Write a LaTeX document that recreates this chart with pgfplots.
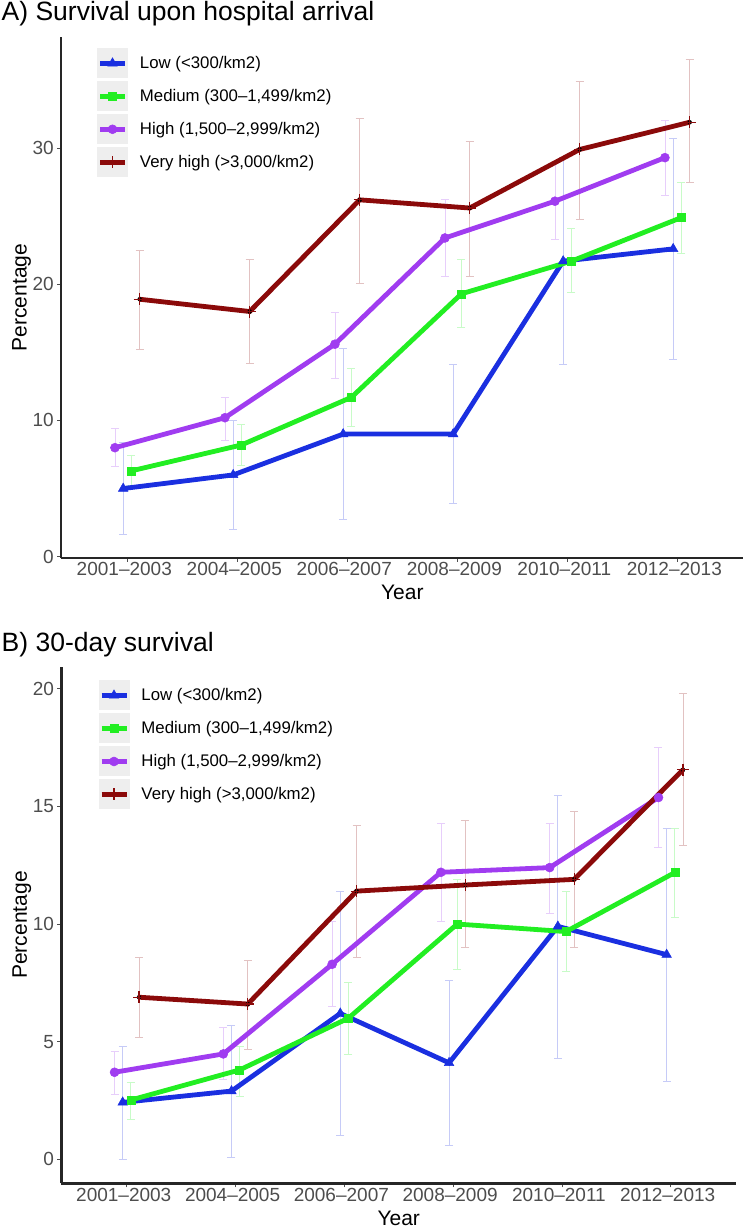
\documentclass[border=0pt]{standalone}
\usepackage{fontspec}
\setmainfont{Liberation Sans}
\usepackage{pgfplots}
\pgfplotsset{compat=1.18}
\usepackage{pgfplotstable}

\definecolor{cblue}{HTML}{1A2FE0}
\definecolor{cgreen}{HTML}{22EE22}
\definecolor{cpurple}{HTML}{A03CF0}
\definecolor{cred}{HTML}{8B0A0A}
\definecolor{tickgray}{HTML}{4D4D4D}
\definecolor{keygray}{HTML}{EEEEEE}

% Panel A
\pgfplotstableread{
x y lo hi
-0.0375 5.0 1.6 8.4
0.9625 6.0 2.0 10.0
1.9625 9.0 2.7 15.3
2.9625 9.0 3.9 14.1
3.9625 21.7 14.1 29.3
4.9625 22.6 14.5 30.7
}\Alow
\pgfplotstableread{
x y lo hi
0.0375 6.3 5.2 7.4
1.0375 8.2 6.7 9.7
2.0375 11.7 9.6 13.85
3.0375 19.3 16.8 21.8
4.0375 21.7 19.4 24.1
5.0375 24.9 22.3 27.5
}\Amed
\pgfplotstableread{
x y lo hi
-0.1125 8.0 6.6 9.4
0.8875 10.2 8.5 11.7
1.8875 15.6 13.1 17.9
2.8875 23.4 20.6 26.2
3.8875 26.1 23.3 28.9
4.8875 29.3 26.5 32.0
}\Ahigh
\pgfplotstableread{
x y lo hi
0.1125 18.9 15.25 22.5
1.1125 18.0 14.2 21.8
2.1125 26.2 20.1 32.2
3.1125 25.6 20.6 30.5
4.1125 29.9 24.8 34.9
5.1125 31.9 27.5 36.5
}\Avhigh

% Panel B
\pgfplotstableread{
x y lo hi
-0.0375 2.42 0.0 4.8
0.9625 2.9 0.1 5.7
1.9625 6.2 1.0 11.4
2.9625 4.1 0.57 7.6
3.9625 9.9 4.3 15.46
4.9625 8.7 3.3 14.07
}\Blow
\pgfplotstableread{
x y lo hi
0.0375 2.52 1.7 3.27
1.0375 3.8 2.66 4.8
2.0375 6.0 4.48 7.5
3.0375 10.0 8.08 11.9
4.0375 9.68 7.98 11.4
5.0375 12.19 10.3 14.07
}\Bmed
\pgfplotstableread{
x y lo hi
-0.1125 3.7 2.78 4.6
0.8875 4.48 3.4 5.6
1.8875 8.29 6.49 10.1
2.8875 12.2 10.1 14.29
3.8875 12.4 10.46 14.29
4.8875 15.38 13.27 17.5
}\Bhigh
\pgfplotstableread{
x y lo hi
0.1125 6.89 5.19 8.59
1.1125 6.6 4.69 8.47
2.1125 11.4 8.59 14.18
3.1125 11.66 9.0 14.4
4.1125 11.9 9.0 14.81
5.1125 16.56 13.36 19.81
}\Bvhigh

\pgfplotsset{
  base/.style={
    scale only axis,
    axis x line*=bottom, axis y line*=left,
    axis line style={line width=2.4pt, black!85, -},
    xmin=-0.6, xmax=5.6,
    xtick={0,...,5},
    xticklabels={2001--2003,2004--2005,2006--2007,2008--2009,2010--2011,2012--2013},
    tick align=outside,
    major tick length=4pt,
    tick style={tickgray, line width=0.8pt},
    ticklabel style={font=\fontsize{19}{22}\selectfont, text=tickgray},
    xticklabel style={anchor=base, yshift=-14pt, xshift=-3pt},
    yticklabel style={anchor=east, xshift=0pt},
    xlabel={Year}, ylabel={Percentage},
    label style={font=\fontsize{21}{24}\selectfont},
    xlabel style={at={([yshift=-42pt]axis description cs:0.5,0)}, anchor=base},
    ylabel style={at={([xshift=-34.6pt]axis description cs:0,0.5)}, anchor=base},
    legend cell align=left,
    legend style={draw=none, fill=none, inner sep=0pt, outer sep=0pt,
      font=\fontsize{16.8}{20}\selectfont, row sep=3pt,
      nodes={inner sep=0pt},
      /tikz/every odd column/.append style={column sep=12pt}},
    legend image code/.code={
      \fill[keygray, draw=none] (-3pt,-15pt) rectangle (28pt,15pt);
      \draw[mark repeat=2, mark phase=2, #1] plot coordinates {(0pt,0pt) (12.5pt,0pt) (25pt,0pt)};
    },
  },
  eb/.style={forget plot, only marks, mark=none,
    error bars/.cd, y dir=both, y explicit,
    error bar style={line width=0.8pt, #1},
    error mark options={rotate=90, mark size=4pt, line width=0.8pt, #1}},
  lblue/.style={cblue, line width=4.8pt, mark=triangle*, mark size=5.5pt, mark options={solid, line width=0.5pt}},
  lgreen/.style={cgreen, line width=4.8pt, mark=square*, mark size=4pt, mark options={solid, line width=0.5pt}},
  lpurple/.style={cpurple, line width=4.8pt, mark=*, mark size=4.5pt, mark options={solid, line width=0.5pt}},
  lred/.style={cred, line width=4.8pt, mark=+, mark size=6pt, mark options={solid, line width=1.2pt}},
}

\begin{document}
\begin{tikzpicture}
\useasboundingbox (0,0) rectangle (754pt,1229pt);
\node[anchor=base west, inner sep=0pt, font=\fontsize{26.5}{30}\selectfont] at (1.5pt,1208.3pt) {A) Survival upon hospital arrival};
\node[anchor=base west, inner sep=0pt, font=\fontsize{26.5}{30}\selectfont] at (1.5pt,577.3pt) {B) 30-day survival};

\begin{axis}[base, at={(61.3pt,671pt)}, anchor=south west,
  width=682pt, height=521pt, ymin=-0.1, ymax=38.16,
  ytick={0,10,20,30}, yticklabels={0,10,20,30},
  legend style={at={([xshift=35.7pt,yshift=-11.3pt]axis description cs:0,1)}, anchor=north west}]
\addplot[eb=cblue!25] table[x=x, y=y, y error plus expr=\thisrow{hi}-\thisrow{y}, y error minus expr=\thisrow{y}-\thisrow{lo}] {\Alow};
\addplot[eb=cgreen!25] table[x=x, y=y, y error plus expr=\thisrow{hi}-\thisrow{y}, y error minus expr=\thisrow{y}-\thisrow{lo}] {\Amed};
\addplot[eb=cpurple!25] table[x=x, y=y, y error plus expr=\thisrow{hi}-\thisrow{y}, y error minus expr=\thisrow{y}-\thisrow{lo}] {\Ahigh};
\addplot[eb=cred!25] table[x=x, y=y, y error plus expr=\thisrow{hi}-\thisrow{y}, y error minus expr=\thisrow{y}-\thisrow{lo}] {\Avhigh};
\addplot[lblue] table[x=x,y=y] {\Alow};
\addlegendentry{Low (<300/km2)}
\addplot[lgreen] table[x=x,y=y] {\Amed};
\addlegendentry{Medium (300--1,499/km2)}
\addplot[lpurple] table[x=x,y=y] {\Ahigh};
\addlegendentry{High (1,500--2,999/km2)}
\addplot[lred] table[x=x,y=y] {\Avhigh};
\addlegendentry{Very high (>3,000/km2)}
\end{axis}

\begin{axis}[base, at={(61.5pt,45.7pt)}, anchor=south west,
  width=674.5pt, height=516.6pt, ymin=-1.02, ymax=20.94,
  ytick={0,5,10,15,20}, yticklabels={0,5,10,15,20},
  legend style={at={([xshift=37pt,yshift=-13.8pt]axis description cs:0,1)}, anchor=north west}]
\addplot[eb=cblue!25] table[x=x, y=y, y error plus expr=\thisrow{hi}-\thisrow{y}, y error minus expr=\thisrow{y}-\thisrow{lo}] {\Blow};
\addplot[eb=cgreen!25] table[x=x, y=y, y error plus expr=\thisrow{hi}-\thisrow{y}, y error minus expr=\thisrow{y}-\thisrow{lo}] {\Bmed};
\addplot[eb=cpurple!25] table[x=x, y=y, y error plus expr=\thisrow{hi}-\thisrow{y}, y error minus expr=\thisrow{y}-\thisrow{lo}] {\Bhigh};
\addplot[eb=cred!25] table[x=x, y=y, y error plus expr=\thisrow{hi}-\thisrow{y}, y error minus expr=\thisrow{y}-\thisrow{lo}] {\Bvhigh};
\addplot[lblue] table[x=x,y=y] {\Blow};
\addlegendentry{Low (<300/km2)}
\addplot[lgreen] table[x=x,y=y] {\Bmed};
\addlegendentry{Medium (300--1,499/km2)}
\addplot[lpurple] table[x=x,y=y] {\Bhigh};
\addlegendentry{High (1,500--2,999/km2)}
\addplot[lred] table[x=x,y=y] {\Bvhigh};
\addlegendentry{Very high (>3,000/km2)}
\end{axis}
\end{tikzpicture}
\end{document}
